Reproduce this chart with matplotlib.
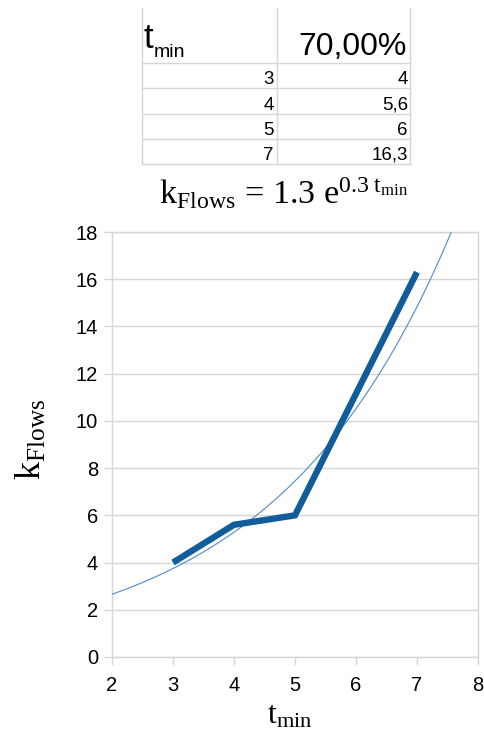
import numpy as np
import matplotlib
matplotlib.use("Agg")
import matplotlib.pyplot as plt
from matplotlib.lines import Line2D

# Measured series
t_min = [3, 4, 5, 7]
k_flows = [4, 5.6, 6, 16.3]
percent_label = "70,00%"
x_ticks = [2, 3, 4, 5, 6, 7, 8]
y_ticks = [0, 2, 4, 6, 8, 10, 12, 14, 16, 18]

plt.rcParams["mathtext.fontset"] = "custom"
plt.rcParams["mathtext.rm"] = "Liberation Serif"
plt.rcParams["mathtext.it"] = "Liberation Serif:italic"
plt.rcParams["mathtext.bf"] = "Liberation Serif:bold"

W, H = 484, 733
fig = plt.figure(figsize=(W / 100, H / 100), dpi=100)
fig.patch.set_facecolor("white")


def fx(px):
    return px / W


def fy(py):
    return 1 - py / H


GRID = "#d6d6d6"
SANS = "Liberation Sans"

# ---- spreadsheet-style table ----
col_x = [142, 277, 410]
row_y = [63, 88, 114, 139, 164]
for x in col_x:
    fig.add_artist(Line2D([fx(x), fx(x)], [fy(8), fy(164)], color=GRID, lw=1.0))
for y in row_y:
    fig.add_artist(Line2D([fx(142), fx(410)], [fy(y), fy(y)], color=GRID, lw=1.0))

fig.text(fx(144), fy(48), "t", fontsize=25, family=SANS, va="baseline", ha="left")
fig.text(fx(154), fy(57), "min", fontsize=14, family=SANS, va="baseline", ha="left")
fig.text(fx(407), fy(55), percent_label, fontsize=23, family=SANS,
         va="baseline", ha="right")


def fmt(v):
    s = f"{v:g}"
    return s.replace(".", ",")


for i, (tv, kv) in enumerate(zip(t_min, k_flows)):
    base = row_y[i + 1] - 4
    fig.text(fx(274), fy(base), fmt(tv), fontsize=13.5, family=SANS,
             va="baseline", ha="right")
    fig.text(fx(408), fy(base), fmt(kv), fontsize=13.5, family=SANS,
             va="baseline", ha="right")

# ---- exponential trend fitted to the series ----
b, ln_a = np.polyfit(t_min, np.log(k_flows), 1)
a = np.exp(ln_a)

fig.text(fx(284), fy(204),
         r"$\mathrm{k}_{\mathrm{Flows}}\,=\,%.1f\ \mathrm{e}^{%.1f\ \mathrm{t}_{\mathrm{min}}}$"
         % (a, b),
         fontsize=24.5, ha="center", va="baseline")

# ---- chart ----
ax = fig.add_axes([fx(112), fy(657), fx(478) - fx(112), fy(232) - fy(657)])
ax.set_xlim(2, 8)
ax.set_ylim(0, 18)
ax.set_xticks(x_ticks)
ax.set_yticks(y_ticks)
ax.grid(axis="y", color=GRID, lw=1.0)
ax.set_axisbelow(True)
for sp in ax.spines.values():
    sp.set_color(GRID)
    sp.set_linewidth(1.0)
ax.tick_params(axis="both", length=6, width=1.0, color=GRID,
               labelsize=14.5, labelcolor="black")
ax.tick_params(axis="x", pad=7.5)
ax.tick_params(axis="y", pad=4)
for lab in ax.get_xticklabels() + ax.get_yticklabels():
    lab.set_family(SANS)

xs = np.linspace(2, 8, 400)
ax.plot(xs, a * np.exp(b * xs), color="#4f8bc9", lw=0.8, zorder=3)
ax.plot(t_min, k_flows, color="#115d9b", lw=4.6, solid_capstyle="butt",
        solid_joinstyle="miter", zorder=4)

fig.text(fx(31), fy(439), r"$\mathrm{k}_{\mathrm{Flows}}$", fontsize=26,
         rotation=90, ha="center", va="center")
fig.text(fx(290), fy(715), r"$\mathrm{t}_{\mathrm{min}}$", fontsize=23,
         ha="center", va="center")

fig.savefig("out.png", dpi=100, facecolor="white")
